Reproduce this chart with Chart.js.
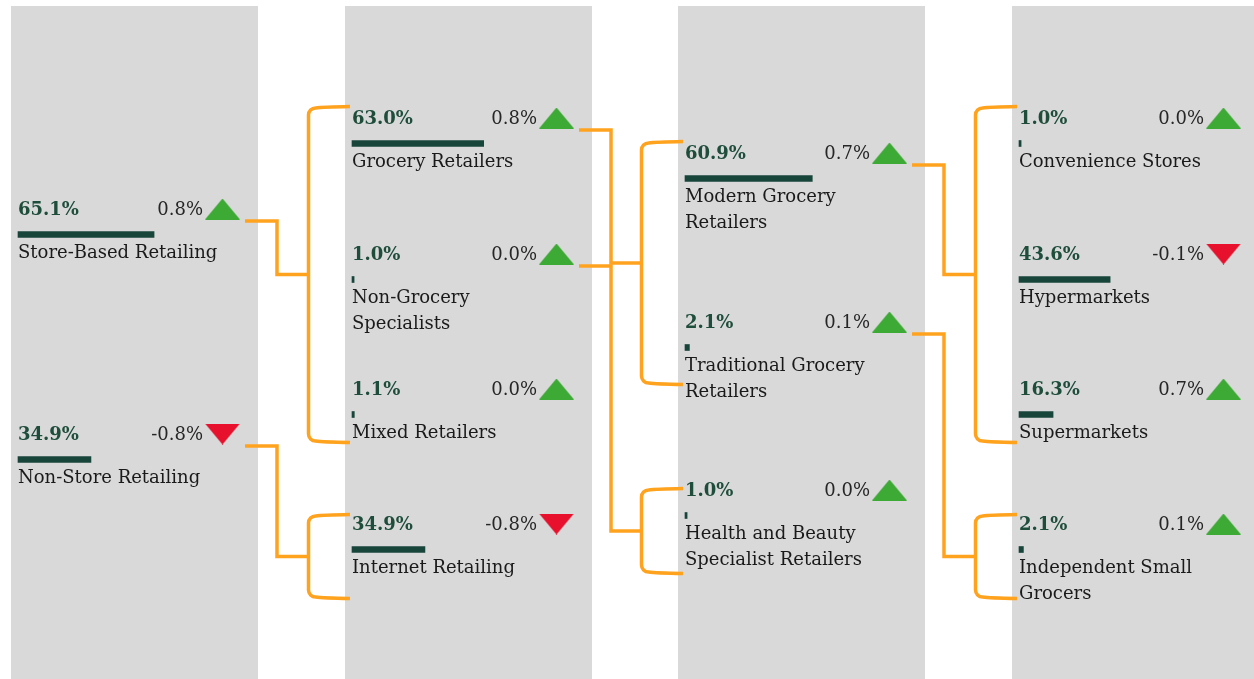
<!DOCTYPE html>
<html><head><meta charset="utf-8">
<script src="https://cdn.jsdelivr.net/npm/chart.js@4.4.1/dist/chart.umd.min.js"></script>
<style>html,body{margin:0;padding:0;background:#fff;}canvas{display:block;}</style>
</head><body>
<canvas id="c" width="1254" height="679"></canvas>
<script>
// ---- data ----
const col1Names = ['Store-Based Retailing', 'Non-Store Retailing'];
const col1Shares = [65.1, 34.9];
const col1Changes = [0.8, -0.8];

const col2Names = ['Grocery Retailers', 'Non-Grocery Specialists', 'Mixed Retailers', 'Internet Retailing'];
const col2Shares = [63.0, 1.0, 1.1, 34.9];
const col2Changes = [0.8, 0.0, 0.0, -0.8];

const col3Names = ['Modern Grocery Retailers', 'Traditional Grocery Retailers', 'Health and Beauty Specialist Retailers'];
const col3Shares = [60.9, 2.1, 1.0];
const col3Changes = [0.7, 0.1, 0.0];

const col4Names = ['Convenience Stores', 'Hypermarkets', 'Supermarkets', 'Independent Small Grocers'];
const col4Shares = [1.0, 43.6, 16.3, 2.1];
const col4Changes = [0.0, -0.1, 0.7, 0.1];

// parent -> children links  [parentCol, parentIdx, childCol, [childIdx...]]
const links = [
  [0, 0, 1, [0, 1, 2]],
  [0, 1, 1, [3]],
  [1, 0, 2, [0, 1]],
  [1, 1, 2, [2]],
  [2, 0, 3, [0, 1, 2]],
  [2, 1, 3, [3]]
];

// ---- layout (positions / styles only) ----
const W = 1254, H = 679;
const PX_PER_PCT = 2.09;
const colLeft = [11, 345, 678, 1012];
const colWidth = 247;
const rowY = [[209, 434], [118, 254, 389, 524], [153, 322, 490], [118, 254, 389, 524]];
const bracketPad = [[-10, 52], [-8, 73], [-10, 61], [0, 82], [-10, 52], [-8, 73]];
const FONT = '"DejaVu Serif", serif';
const GREEN_TEXT = '#1E4D3B', BAR = '#17453A', ORANGE = '#FFA31F';

const cols = [
  {names: col1Names, shares: col1Shares, changes: col1Changes},
  {names: col2Names, shares: col2Shares, changes: col2Changes},
  {names: col3Names, shares: col3Shares, changes: col3Changes},
  {names: col4Names, shares: col4Shares, changes: col4Changes}
];

function triCanvas(up) {
  const c = document.createElement('canvas');
  c.width = 35; c.height = 21;
  const g = c.getContext('2d');
  g.fillStyle = up ? '#3DAA35' : '#E8112D';
  g.beginPath();
  if (up) { g.moveTo(0, 21); g.lineTo(17.5, 0); g.lineTo(35, 21); }
  else { g.moveTo(0, 0); g.lineTo(35, 0); g.lineTo(17.5, 21); }
  g.closePath(); g.fill();
  return c;
}
const triUp = triCanvas(true), triDown = triCanvas(false);

const barData = [], triData = [], triStyles = [];
cols.forEach((col, ci) => {
  const off = (colLeft[ci] + 7) / PX_PER_PCT;
  col.shares.forEach((v, i) => {
    barData.push({x: [off, off + v], y: rowY[ci][i] + 25.5});
    triData.push({x: (colLeft[ci] + 211.5) / PX_PER_PCT, y: rowY[ci][i]});
    triStyles.push(col.changes[i] >= 0 ? triUp : triDown);
  });
});

function fmt(v) { return v.toFixed(1) + '%'; }

function wrap(ctx, text, maxW) {
  const words = text.split(' ');
  const lines = [];
  let cur = '';
  words.forEach(w => {
    const t = cur ? cur + ' ' + w : w;
    if (ctx.measureText(t).width > maxW && cur) { lines.push(cur); cur = w; }
    else cur = t;
  });
  if (cur) lines.push(cur);
  return lines;
}

const decor = {
  id: 'decor',
  beforeDatasetsDraw(chart) {
    const ctx = chart.ctx;
    const ys = chart.scales.y;
    ctx.save();
    ctx.fillStyle = '#D9D9D9';
    colLeft.forEach(x => {
      ctx.fillRect(x, ys.getPixelForValue(6), colWidth, ys.getPixelForValue(H) - ys.getPixelForValue(6));
    });
    // connectors
    ctx.strokeStyle = ORANGE;
    ctx.lineWidth = 3.5;
    ctx.lineJoin = 'miter';
    links.forEach((lk, li) => {
      const [pc, pi, cc, kids] = lk;
      const py = ys.getPixelForValue(rowY[pc][pi] + 12);
      const sx = colLeft[pc] + 234;
      const ex = colLeft[pc] + 266;
      const bx = colLeft[cc] - 36.5;
      const endX = colLeft[cc] + 5;
      const top = ys.getPixelForValue(rowY[cc][kids[0]] + bracketPad[li][0]);
      const bot = ys.getPixelForValue(rowY[cc][kids[kids.length - 1]] + bracketPad[li][1]);
      const mid = (top + bot) / 2;
      ctx.beginPath();
      ctx.moveTo(sx, py); ctx.lineTo(ex, py); ctx.lineTo(ex, mid); ctx.lineTo(bx, mid);
      ctx.stroke();
      const r = 7;
      ctx.beginPath();
      ctx.moveTo(endX, top - 1.5);
      ctx.quadraticCurveTo(bx + 14, top - 1, bx + r, top);
      ctx.arcTo(bx, top, bx, top + r, r);
      ctx.lineTo(bx, bot - r);
      ctx.arcTo(bx, bot, bx + r, bot, r);
      ctx.quadraticCurveTo(bx + 14, bot + 1, endX, bot + 1.5);
      ctx.stroke();
    });
    ctx.restore();
  },
  afterDatasetsDraw(chart) {
    const ctx = chart.ctx;
    const ys = chart.scales.y;
    ctx.save();
    ctx.textBaseline = 'middle';
    cols.forEach((col, ci) => {
      const tx = colLeft[ci] + 7;
      col.names.forEach((name, i) => {
        const y = ys.getPixelForValue(rowY[ci][i]);
        ctx.font = 'bold 18px ' + FONT;
        ctx.fillStyle = GREEN_TEXT;
        ctx.textAlign = 'left';
        ctx.fillText(fmt(col.shares[i]), tx, y + 1);
        ctx.font = '18px ' + FONT;
        ctx.fillStyle = '#262626';
        ctx.textAlign = 'right';
        ctx.fillText(fmt(col.changes[i]), colLeft[ci] + 192, y + 1);
        ctx.textAlign = 'left';
        ctx.fillStyle = '#1A1A1A';
        const lines = wrap(ctx, name, 210);
        lines.forEach((ln, k) => ctx.fillText(ln, tx, y + 44 + k * 26));
      });
    });
    ctx.restore();
  }
};

new Chart(document.getElementById('c'), {
  type: 'bar',
  data: {
    datasets: [
      {
        type: 'bar', indexAxis: 'y', data: barData,
        backgroundColor: BAR, barThickness: 6, borderWidth: 0, grouped: false
      },
      {
        type: 'scatter', data: triData, pointStyle: triStyles,
        pointRadius: 12, pointHoverRadius: 12, showLine: false, clip: false
      }
    ]
  },
  plugins: [decor],
  options: {
    responsive: false, animation: false,
    layout: {padding: 0, autoPadding: false},
    plugins: {legend: {display: false}, tooltip: {enabled: false}},
    events: [],
    scales: {
      x: {type: 'linear', display: false, offset: false, grace: 0, min: 0, max: W / PX_PER_PCT},
      y: {type: 'linear', display: false, offset: false, grace: 0, min: 0, max: H, reverse: true}
    }
  }
});
</script>
</body></html>
